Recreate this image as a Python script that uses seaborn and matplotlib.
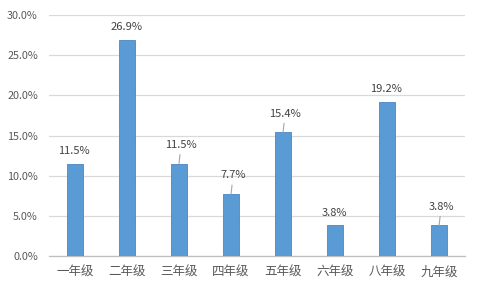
import matplotlib
matplotlib.use("Agg")
import matplotlib.pyplot as plt
import seaborn as sns
import pandas as pd
from matplotlib.ticker import PercentFormatter

categories = ["一年级", "二年级", "三年级", "四年级", "五年级", "六年级", "八年级", "九年级"]
values = [11.5, 26.9, 11.5, 7.7, 15.4, 3.8, 19.2, 3.8]
yticks = [0, 5, 10, 15, 20, 25, 30]
# labels that sit higher with a leader line
leader = [False, False, True, True, True, False, False, True]

sns.set_theme(style="white")
plt.rcParams['font.family'] = ['Noto Sans CJK SC', 'DejaVu Sans']

df = pd.DataFrame({"grade": categories, "pct": values})

fig = plt.figure(figsize=(4.8, 2.88), dpi=100)
ax = fig.add_axes([0.102, 0.111, 0.867, 0.837])
sns.barplot(data=df, x="grade", y="pct", ax=ax, color="#5B9BD5",
            width=0.3, saturation=1, edgecolor="#4A86C5", linewidth=0.6, zorder=3)

ax.set_ylim(0, 30)
ax.set_yticks(yticks)
ax.yaxis.set_major_formatter(PercentFormatter(decimals=1))
ax.set_xlim(-0.5, len(categories) - 0.5)
ax.grid(axis="y", color="#D9D9D9", linewidth=0.9, zorder=0)
ax.set_axisbelow(True)
for s in ["left", "right", "top"]:
    ax.spines[s].set_visible(False)
ax.spines["bottom"].set_color("#BFBFBF")
ax.spines["bottom"].set_linewidth(0.9)
ax.tick_params(axis="y", length=0, pad=8, labelsize=7.8, labelcolor="#595959")
ax.tick_params(axis="x", length=0, pad=7, labelsize=9, labelcolor="#595959")
ax.set_xlabel("")
ax.set_ylabel("")

for i, v in enumerate(values):
    if leader[i]:
        ax.annotate(f"{v:.1f}%", xy=(i, v), xytext=(1.5, 13.5),
                    textcoords="offset points", ha="center", va="center",
                    fontsize=8, color="#404040", zorder=5,
                    arrowprops=dict(arrowstyle="-", color="#A6A6A6", lw=0.8,
                                    shrinkA=1, shrinkB=0))
    else:
        ax.annotate(f"{v:.1f}%", xy=(i, v), xytext=(-0.5, 9),
                    textcoords="offset points", ha="center", va="center",
                    fontsize=8, color="#404040", zorder=5)

fig.savefig("out.png", dpi=100)
